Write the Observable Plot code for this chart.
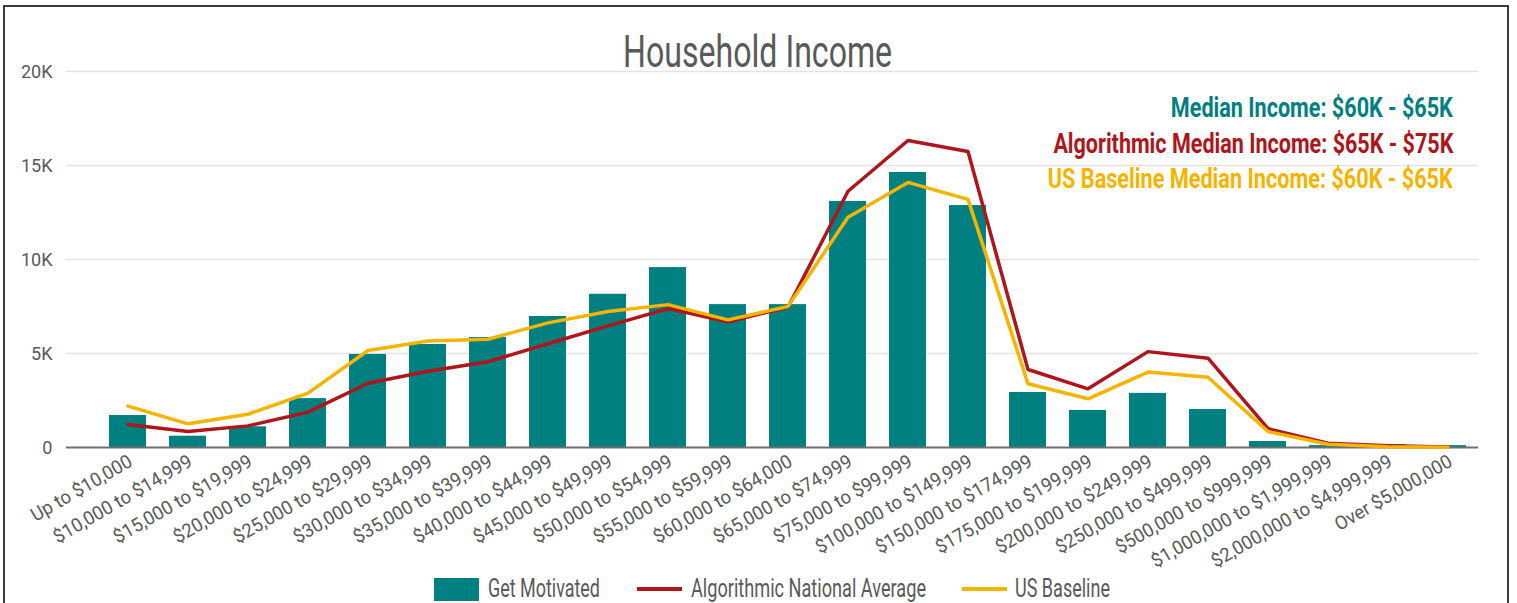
<!DOCTYPE html>
<html>
<head>
<meta charset="utf-8">
<script src="https://cdn.jsdelivr.net/npm/d3@7"></script>
<script src="https://cdn.jsdelivr.net/npm/@observablehq/plot@0.6"></script>
<style>
  html, body { margin: 0; padding: 0; background: #fff; }
  #page { position: relative; width: 1517px; height: 603px; overflow: hidden; background: #fff; font-family: Roboto, "Liberation Sans", sans-serif; }
  #border { position: absolute; left: 3px; top: 5px; width: 1502px; height: 700px; border: 2px solid #3a3a3a; }
  #chart { position: absolute; left: 0; top: 0; }
  .t { position: absolute; display: inline-block; white-space: nowrap; }
  #title { color: #595959; font-size: 45px; line-height: 52.74px; top: 26.2px; transform-origin: center; }
  .note { font-weight: bold; font-size: 27px; line-height: 31.64px; right: 64px; transform-origin: right center; }
  .lg { color: #595959; font-size: 25px; line-height: 29.3px; top: 573.8px; transform-origin: left center; }
  .sw { position: absolute; }
</style>
</head>
<body>
<div id="page">
  <div id="border"></div>
  <div id="chart"></div>
  <span class="t" id="title">Household Income</span>
  <span class="t note" id="n1" style="top:92.6px;color:#008080">Median Income: $60K - $65K</span>
  <span class="t note" id="n2" style="top:128.6px;color:#B0151B">Algorithmic Median Income: $65K - $75K</span>
  <span class="t note" id="n3" style="top:164px;color:#F5B400">US Baseline Median Income: $60K - $65K</span>
  <div class="sw" style="left:434px;top:578px;width:45px;height:23px;background:#008080"></div>
  <span class="t lg" id="l1" style="left:488px">Get Motivated</span>
  <div class="sw" style="left:637px;top:587px;width:45px;height:4px;background:#B0151B"></div>
  <span class="t lg" id="l2" style="left:691px">Algorithmic National Average</span>
  <div class="sw" style="left:962px;top:587px;width:45px;height:4px;background:#F5B400"></div>
  <span class="t lg" id="l3" style="left:1015px">US Baseline</span>
</div>
<script>
const categories = ["Up to $10,000","$10,000 to $14,999","$15,000 to $19,999","$20,000 to $24,999","$25,000 to $29,999","$30,000 to $34,999","$35,000 to $39,999","$40,000 to $44,999","$45,000 to $49,999","$50,000 to $54,999","$55,000 to $59,999","$60,000 to $64,000","$65,000 to $74,999","$75,000 to $99,999","$100,000 to $149,999","$150,000 to $174,999","$175,000 to $199,999","$200,000 to $249,999","$250,000 to $499,999","$500,000 to $999,999","$1,000,000 to $1,999,999","$2,000,000 to $4,999,999","Over $5,000,000"];
const getMotivated = [1700, 600, 1100, 2600, 4950, 5480, 5850, 6970, 8150, 9570, 7600, 7600, 13090, 14630, 12870, 2925, 1970, 2880, 2020, 320, 100, 150, 100];
const algorithmic = [1220, 850, 1150, 1880, 3420, 4060, 4560, 5520, 6470, 7390, 6690, 7460, 13630, 16330, 15740, 4150, 3120, 5100, 4750, 1000, 230, 90, 20];
const usBaseline = [2200, 1260, 1770, 2890, 5160, 5670, 5760, 6630, 7230, 7600, 6790, 7500, 12250, 14100, 13200, 3390, 2590, 4010, 3740, 850, 170, 40, 10];
const yTicks = [0, 5000, 10000, 15000, 20000];
const yTickLabels = ["0", "5K", "10K", "15K", "20K"];

const rows = categories.map((c, i) => ({cat: c, gm: getMotivated[i], alg: algorithmic[i], us: usBaseline[i]}));

const chart = Plot.plot({
  width: 1517,
  height: 560,
  marginLeft: 98,
  marginRight: 39,
  marginTop: 71,
  marginBottom: 113,
  style: {fontFamily: 'Roboto, "Liberation Sans", sans-serif', overflow: "visible"},
  x: {domain: categories, paddingInner: 0.38, paddingOuter: 0.19, axis: null},
  y: {domain: [0, 20000], axis: null},
  marks: [
    Plot.ruleY(yTicks.slice(1), {stroke: "#e3e3e3", strokeWidth: 1.5, insetLeft: -32}),
    Plot.barY(rows, {x: "cat", y: "gm", fill: "#008080"}),
    Plot.ruleY([0], {stroke: "#6e6e6e", strokeWidth: 2, insetLeft: -32}),
    Plot.lineY(rows, {x: "cat", y: "alg", stroke: "#B0151B", strokeWidth: 3.5}),
    Plot.lineY(rows, {x: "cat", y: "us", stroke: "#F5B400", strokeWidth: 3.5}),
    Plot.axisY({ticks: yTicks, tickFormat: d => yTickLabels[yTicks.indexOf(d)], tickSize: 0, tickPadding: 46, fontSize: 19, fill: "#595959"}),
    Plot.text(categories, {x: d => d, frameAnchor: "bottom", dy: 6, dx: -1, rotate: -30, textAnchor: "end", lineAnchor: "top", fontSize: 19, fill: "#595959"})
  ]
});
document.getElementById("chart").appendChild(chart);

function condense(selector, s) {
  chart.querySelectorAll(selector).forEach(t => {
    const tr = t.getAttribute("transform") || "";
    t.setAttribute("transform", tr + ` scale(${s},1)`);
  });
}
condense('g[aria-label="text"] text', 0.97);
condense('g[aria-label="y-axis tick label"] text', 0.95);

const targets = {title: 269, n1: 282, n2: 400, n3: 405, l1: 112, l2: 235, l3: 95};
function fit() {
  for (const [id, w] of Object.entries(targets)) {
    const el = document.getElementById(id);
    el.style.transform = "none";
    const actual = el.getBoundingClientRect().width;
    if (id === "title") el.style.left = (757.5 - actual / 2) + "px";
    el.style.transform = `scaleX(${w / actual})`;
  }
}
fit();
if (document.fonts && document.fonts.ready) document.fonts.ready.then(fit);
</script>
</body>
</html>
